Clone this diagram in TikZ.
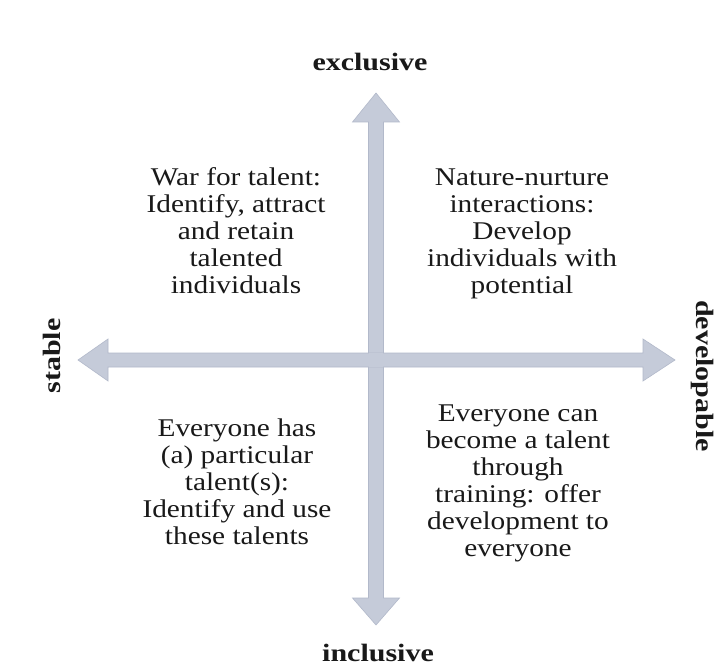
\documentclass[tikz,border=0pt]{standalone}
\usepackage{fontspec}
\setmainfont{Liberation Serif}
\definecolor{axisfill}{RGB}{197,203,217}
\definecolor{axisedge}{RGB}{178,185,202}
\definecolor{txt}{RGB}{25,25,25}
\newcommand{\wide}[2]{\scalebox{#1}[1]{#2}}
\begin{document}
\begin{tikzpicture}[x=1pt,y=-1pt,
  quad/.style={text=txt,inner sep=0pt},
  axlabel/.style={text=txt,font=\fontsize{25}{28}\selectfont\bfseries,inner sep=0pt},
  axis/.style={fill=axisfill,draw=axisedge,line width=0.6pt,line join=miter}]
\useasboundingbox[fill=white] (0,0) rectangle (725,668);
% vertical double arrow
\draw[axis] (376,93) -- (399.5,122) -- (383.5,122) -- (383.5,598) -- (399.5,598)
  -- (376,625) -- (352.5,598) -- (368.5,598) -- (368.5,122) -- (352.5,122) -- cycle;
% horizontal double arrow
\draw[axis] (78,360) -- (108,339) -- (108,353) -- (643,353) -- (643,339)
  -- (675,360) -- (643,381) -- (643,367) -- (108,367) -- (108,381) -- cycle;
\fill[axisfill] (368.9,353.4) rectangle (383.1,366.6);
% axis labels
\node[axlabel] (excl) at (370,62) {\wide{1.2}{exclusive}};
\node[axlabel] (incl) at (378,653) {\wide{1.2}{inclusive}};
\node[axlabel,rotate=90] (stab) at (52,356) {\wide{1.2}{stable}};
\node[axlabel,rotate=-90] (devel) at (703,376) {\wide{1.2}{developable}};
% quadrant texts
\node[quad] (tl) at (236,234) {\wide{1.15}{\fontsize{25.5}{27}\selectfont\begin{tabular}{@{}c@{}}War for talent:\\Identify, attract\\and retain\\talented\\individuals\end{tabular}}};
\node[quad] (tr) at (522,234) {\wide{1.15}{\fontsize{25.5}{27}\selectfont\begin{tabular}{@{}c@{}}Nature-nurture\\interactions:\\Develop\\individuals with\\potential\end{tabular}}};
\node[quad] (bl) at (237,485) {\wide{1.15}{\fontsize{25.5}{27}\selectfont\begin{tabular}{@{}c@{}}Everyone has\\(a) particular\\talent(s):\\Identify and use\\these talents\end{tabular}}};
\node[quad] (br) at (518,484) {\wide{1.15}{\fontsize{25.5}{27}\selectfont\begin{tabular}{@{}c@{}}Everyone can\\become a talent\\through\\training: offer\\development to\\everyone\end{tabular}}};
\end{tikzpicture}
\end{document}
